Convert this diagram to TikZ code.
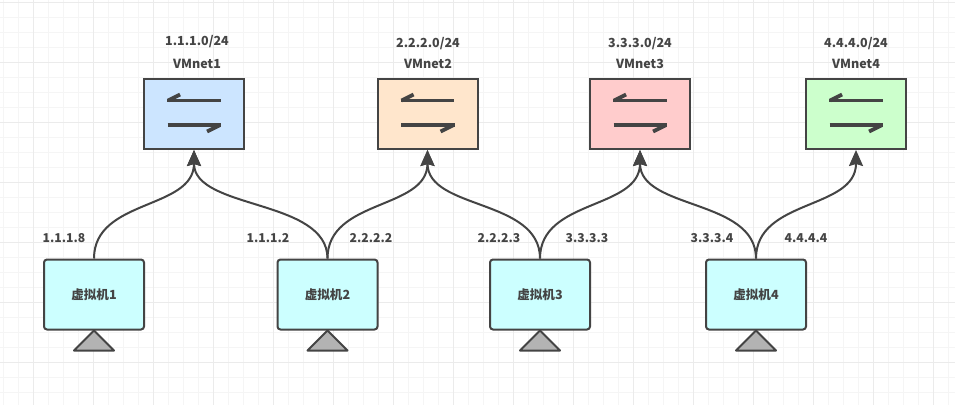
\documentclass[tikz,border=0pt]{standalone}
\usepackage{fontspec}
\setmainfont{Noto Sans CJK SC}
\usetikzlibrary{arrows.meta}
\definecolor{inkgray}{HTML}{444444}
\definecolor{gridminor}{HTML}{F5F5F5}
\definecolor{gridmajor}{HTML}{EBEBEB}
\tikzset{
	switchbox/.style = {draw = inkgray, line width = 2pt, minimum width = 100pt, minimum height = 70pt, inner sep = 0pt},
	vmbox/.style = {switchbox, rounded corners = 3pt, fill = vmcyan, text = inkgray, font = \bfseries\fontsize{12.6}{14}\selectfont},
	iplabel/.style = {text = inkgray, inner sep = 0pt, font = \bfseries\fontsize{12.2}{14}\selectfont},
	netlabel/.style = {iplabel, font = \bfseries\fontsize{12.5}{14}\selectfont},
	link/.style = {draw = inkgray, line width = 2pt, -{Stealth[length = 16pt, width = 14pt, inset = 2pt]}},
	barline/.style = {draw = inkgray, line width = 3.8pt},
	stand/.style = {draw = inkgray, line width = 2pt, fill = standgray, line join = round}
}
\definecolor{vmcyan}{HTML}{CCFFFF}
\definecolor{standgray}{HTML}{B3B3B3}
\definecolor{netblue}{HTML}{CCE5FF}
\definecolor{netorange}{HTML}{FFE6CC}
\definecolor{netred}{HTML}{FFCCCC}
\definecolor{netgreen}{HTML}{CCFFCC}
\begin{document}
\begin{tikzpicture} [x = 1pt, y = -1pt]
	\useasboundingbox (0,0) rectangle (955,405);
	\fill [white] (0,0) rectangle (955,405);
	% background grid
	\foreach \i in {3,18,...,955} \draw [gridminor] (\i,0) -- (\i,405);
	\foreach \i in {2,17,...,405} \draw [gridminor] (0,\i) -- (955,\i);
	\foreach \i in {33,93,...,955} \draw [gridmajor] (\i,0) -- (\i,405);
	\foreach \i in {2,62,...,405} \draw [gridmajor] (0,\i) -- (955,\i);
	% virtual networks
	\node [switchbox, fill = netblue] (sw1) at (194,114) {};
	\node [switchbox, fill = netorange] (sw2) at (427.5,114) {};
	\node [switchbox, fill = netred] (sw3) at (640,114) {};
	\node [switchbox, fill = netgreen] (sw4) at (856,114) {};
	\foreach \n in {sw1,sw2,sw3,sw4} {
		\draw [barline] ([shift = {(-27,-13.5)}]\n.center) -- ([shift = {(26.5,-13.5)}]\n.center);
		\draw [barline] ([shift = {(-26,-13.5)}]\n.center) -- ([shift = {(-14,-19.5)}]\n.center);
		\draw [barline] ([shift = {(-26.5,11)}]\n.center) -- ([shift = {(27,11)}]\n.center);
		\draw [barline] ([shift = {(26,11)}]\n.center) -- ([shift = {(13,17.5)}]\n.center);
	}
	% virtual machines
	\node [vmbox] (vm1) at (94,294.5) {虚拟机1};
	\node [vmbox] (vm2) at (327.5,294.5) {虚拟机2};
	\node [vmbox] (vm3) at (540,294.5) {虚拟机3};
	\node [vmbox] (vm4) at (756,294.5) {虚拟机4};
	\foreach \n in {vm1,vm2,vm3,vm4}
		\draw [stand] (\n.south) -- ++(20,20) -- ++(-40,0) -- cycle;
	% links
	\draw [link] (vm1.north) .. controls +(0,-60) and +(0,60) .. (sw1.south);
	\draw [link] (vm2.north) .. controls +(0,-60) and +(0,60) .. (sw1.south);
	\draw [link] (vm2.north) .. controls +(0,-60) and +(0,60) .. (sw2.south);
	\draw [link] (vm3.north) .. controls +(0,-60) and +(0,60) .. (sw2.south);
	\draw [link] (vm3.north) .. controls +(0,-60) and +(0,60) .. (sw3.south);
	\draw [link] (vm4.north) .. controls +(0,-60) and +(0,60) .. (sw3.south);
	\draw [link] (vm4.north) .. controls +(0,-60) and +(0,60) .. (sw4.south);
	% labels
	\node [netlabel] (net1) at (197,41.5) {1.1.1.0/24};
	\node [netlabel] (name1) at (197,63.5) {VMnet1};
	\node [netlabel] (net2) at (428,43.5) {2.2.2.0/24};
	\node [netlabel] (name2) at (428,64) {VMnet2};
	\node [netlabel] (net3) at (640,43.5) {3.3.3.0/24};
	\node [netlabel] (name3) at (640,64) {VMnet3};
	\node [netlabel] (net4) at (856,43.5) {4.4.4.0/24};
	\node [netlabel] (name4) at (856,64) {VMnet4};
	\node [iplabel] (ip1) at (64,238.5) {1.1.1.8};
	\node [iplabel] (ip2) at (268,238.5) {1.1.1.2};
	\node [iplabel] (ip3) at (371,238.5) {2.2.2.2};
	\node [iplabel] (ip4) at (499,238.5) {2.2.2.3};
	\node [iplabel] (ip5) at (587,238.5) {3.3.3.3};
	\node [iplabel] (ip6) at (712,238.5) {3.3.3.4};
	\node [iplabel] (ip7) at (806,238.5) {4.4.4.4};
\end{tikzpicture}
\end{document}
